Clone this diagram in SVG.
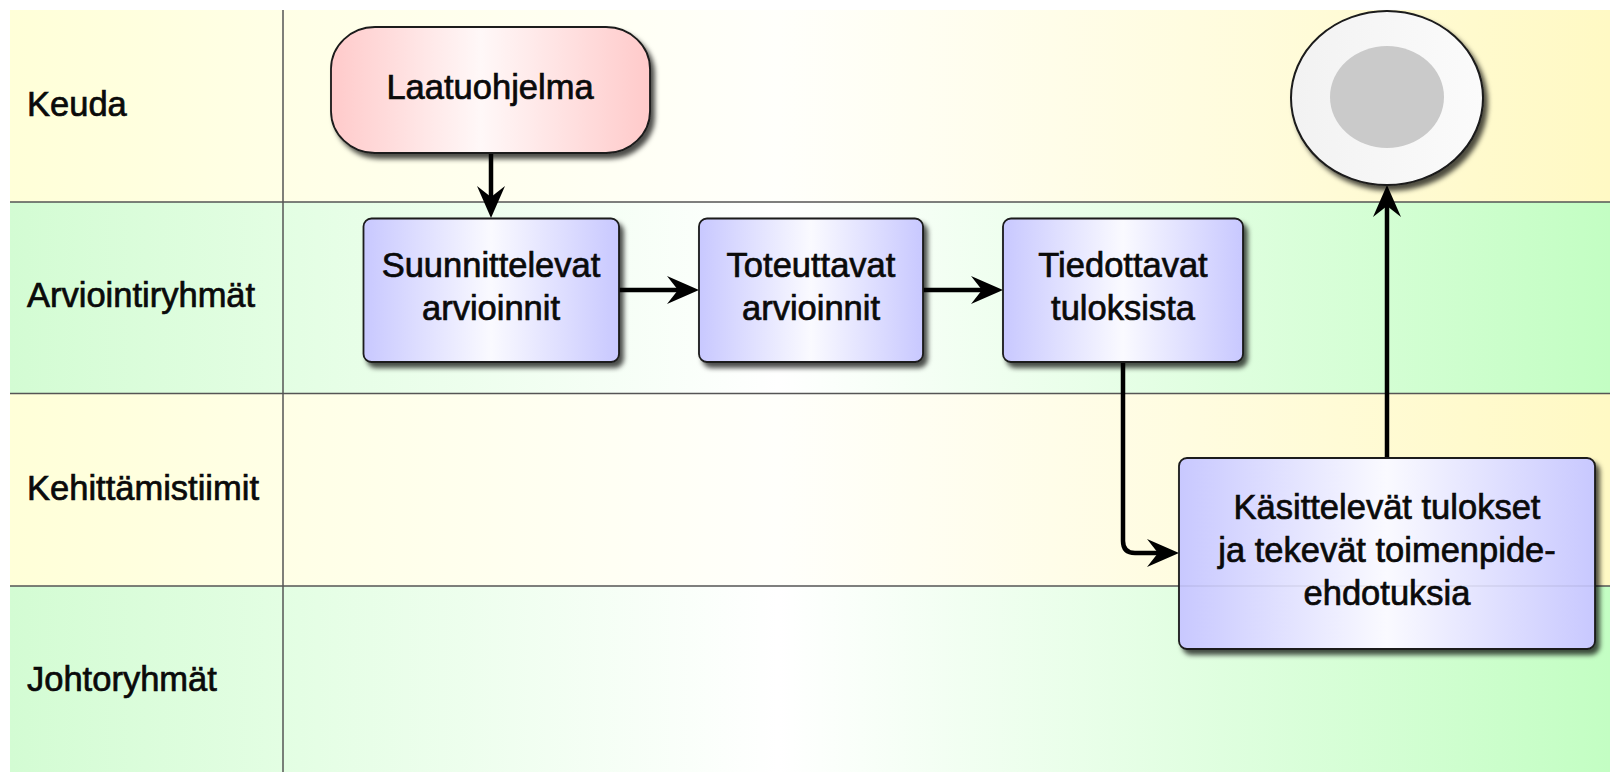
<svg xmlns="http://www.w3.org/2000/svg" width="1610" height="772" viewBox="0 0 1610 772">
<defs>
<style>
.lbl{font-family:"Liberation Sans",Arial,sans-serif;font-size:34.5px;fill:#0a0a0a;stroke:#0a0a0a;stroke-width:0.7px;}
.nt{font-family:"Liberation Sans",Arial,sans-serif;font-size:34.5px;fill:#0a0a0a;stroke:#0a0a0a;stroke-width:0.7px;text-anchor:middle;}
.lane-line{stroke:#555;stroke-width:1.5;fill:none;}
.box{fill:url(#gBox);stroke:#1a1a1a;stroke-width:1.8;filter:url(#sh);}
.conn{fill:none;stroke:#000;stroke-width:4.5;stroke-linejoin:round;}
</style>
<linearGradient id="gY" x1="10" y1="0" x2="1610" y2="0" gradientUnits="userSpaceOnUse">
<stop offset="0" stop-color="#FFFFD8"/>
<stop offset="0.17" stop-color="#FFFFE6"/>
<stop offset="0.48" stop-color="#FFFFFB"/>
<stop offset="1" stop-color="#FFF9C4"/>
</linearGradient>
<linearGradient id="gG" x1="10" y1="0" x2="1610" y2="0" gradientUnits="userSpaceOnUse">
<stop offset="0" stop-color="#D3FCD3"/>
<stop offset="0.17" stop-color="#E3FEE3"/>
<stop offset="0.48" stop-color="#FFFFFF"/>
<stop offset="1" stop-color="#C3FEC3"/>
</linearGradient>
<linearGradient id="gBox" x1="0" y1="0" x2="1" y2="0">
<stop offset="0" stop-color="#C8C8FF"/>
<stop offset="0.5" stop-color="#FAFAFF"/>
<stop offset="1" stop-color="#C8C8FF"/>
</linearGradient>
<linearGradient id="gRed" x1="0" y1="0" x2="1" y2="0">
<stop offset="0" stop-color="#FFCACA"/>
<stop offset="0.47" stop-color="#FFF8F8"/>
<stop offset="1" stop-color="#FFCACA"/>
</linearGradient>
<linearGradient id="gEnd" x1="0" y1="0" x2="1" y2="0">
<stop offset="0" stop-color="#F2F2F2"/>
<stop offset="1" stop-color="#FBFBFB"/>
</linearGradient>
<filter id="sh" x="-10%" y="-10%" width="125%" height="130%">
<feDropShadow dx="4" dy="5" stdDeviation="2.5" flood-color="#000" flood-opacity="0.7"/>
</filter>
<marker id="arr" markerUnits="userSpaceOnUse" markerWidth="36" markerHeight="32" viewBox="0 0 36 32" refX="11" refY="16" orient="auto">
<path d="M0,2 L32,16 L0,30 L11,16 Z" fill="#000"/>
</marker>
</defs>

<rect x="0" y="0" width="1610" height="772" fill="#FFFFFF"/>

<g id="lanes">
<rect x="10" y="10" width="1600" height="192" fill="url(#gY)"/>
<rect x="10" y="202" width="1600" height="191.5" fill="url(#gG)"/>
<rect x="10" y="393.5" width="1600" height="192.5" fill="url(#gY)"/>
<rect x="10" y="586" width="1600" height="186" fill="url(#gG)"/>
<line class="lane-line" x1="10" y1="202" x2="1610" y2="202"/>
<line class="lane-line" x1="10" y1="393.5" x2="1610" y2="393.5"/>
<line class="lane-line" x1="10" y1="586" x2="1610" y2="586"/>
<line class="lane-line" x1="283" y1="10" x2="283" y2="772"/>
<text class="lbl" x="27" y="116">Keuda</text>
<text class="lbl" x="27" y="307">Arviointiryhmät</text>
<text class="lbl" x="27" y="500">Kehittämistiimit</text>
<text class="lbl" x="27" y="691">Johtoryhmät</text>
</g>

<g id="connectors">
<path class="conn" d="M491,153 V197" marker-end="url(#arr)"/>
<path class="conn" d="M619,290 H678" marker-end="url(#arr)"/>
<path class="conn" d="M923,290 H982" marker-end="url(#arr)"/>
<path class="conn" d="M1123,362 V541 Q1123,553 1135,553 H1158" marker-end="url(#arr)"/>
<path class="conn" d="M1387,458 V206" marker-end="url(#arr)"/>
</g>

<g id="n-laatuohjelma">
<rect x="331" y="27" width="319" height="126" rx="44" ry="42" fill="url(#gRed)" stroke="#1a1a1a" stroke-width="1.8" filter="url(#sh)"/>
<text class="nt" x="490" y="99">Laatuohjelma</text>
</g>

<g id="n-suunnittelevat">
<rect class="box" x="363.5" y="218.5" width="255.5" height="143.5" rx="8"/>
<text class="nt" x="491" y="277">Suunnittelevat</text>
<text class="nt" x="491" y="320">arvioinnit</text>
</g>

<g id="n-toteuttavat">
<rect class="box" x="699" y="218.5" width="224" height="143.5" rx="8"/>
<text class="nt" x="811" y="277">Toteuttavat</text>
<text class="nt" x="811" y="320">arvioinnit</text>
</g>

<g id="n-tiedottavat">
<rect class="box" x="1003" y="218.5" width="240" height="143.5" rx="8"/>
<text class="nt" x="1123" y="277">Tiedottavat</text>
<text class="nt" x="1123" y="320">tuloksista</text>
</g>

<g id="n-kasittelevat">
<rect class="box" x="1179" y="458" width="416" height="191" rx="8"/>
<line x1="1180" y1="586" x2="1594" y2="586" stroke="#000" stroke-opacity="0.07" stroke-width="1.5"/>
<text class="nt" x="1387" y="519">Käsittelevät tulokset</text>
<text class="nt" x="1387" y="562">ja tekevät toimenpide-</text>
<text class="nt" x="1387" y="605">ehdotuksia</text>
</g>

<g id="n-end">
<ellipse cx="1387" cy="98" rx="96" ry="87" fill="url(#gEnd)" stroke="#1a1a1a" stroke-width="2" filter="url(#sh)"/>
<ellipse cx="1387" cy="97" rx="57" ry="51" fill="#CACACA"/>
</g>
</svg>
